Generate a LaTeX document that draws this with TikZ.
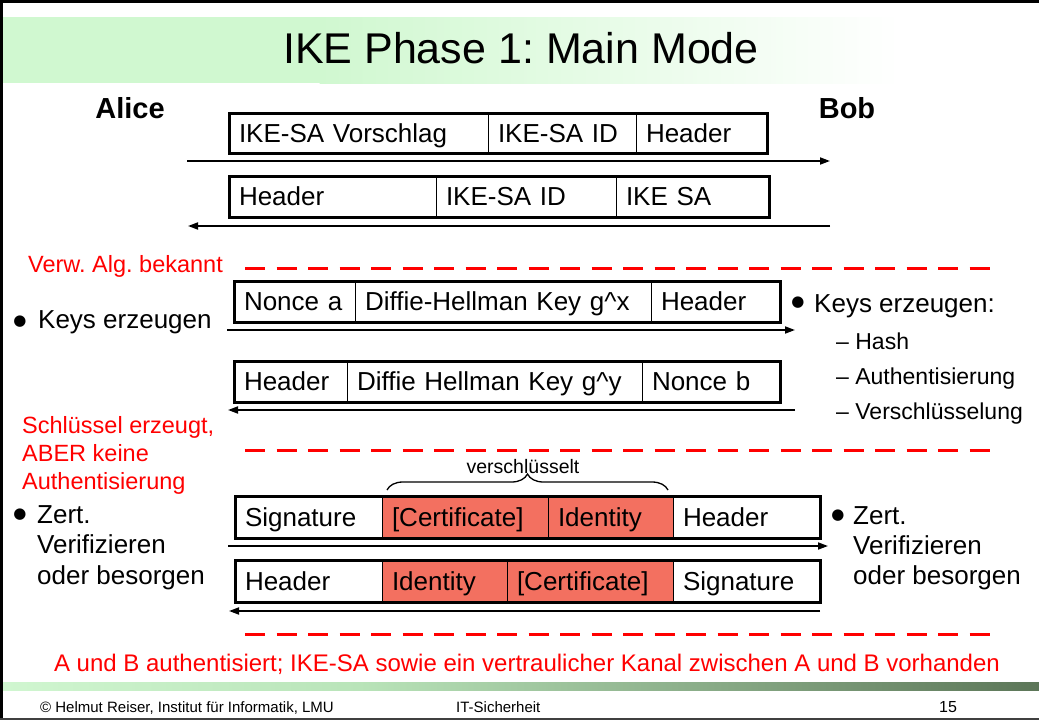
\documentclass[tikz,border=0pt]{standalone}
\usepackage{fontspec}
\setmainfont{Liberation Sans}
\newfontfamily\dejavu{DejaVu Sans}
\usetikzlibrary{decorations.pathreplacing,arrows.meta}
\definecolor{salmon}{RGB}{243,112,96}
\definecolor{bandgreen}{RGB}{208,248,208}
\definecolor{barA}{RGB}{208,246,208}
\definecolor{barB}{RGB}{185,228,185}
\definecolor{barC}{RGB}{92,118,88}
\definecolor{alertred}{RGB}{255,0,0}
\frenchspacing
\newcommand\fsz[1]{\fontsize{#1}{#1}\selectfont}
\tikzset{
  cellbox/.style={draw=black, line width=1pt, inner xsep=10pt, inner ysep=0pt, outer sep=0pt,
    align=left, anchor=north west, text height=18.6pt, text depth=0pt, font=\fsz{26}},
  boxframe/.style={draw=black, line width=3pt},
  msg/.style={line width=1.8pt, -{Triangle[length=10pt,width=7pt]}},
  divider/.style={draw=alertred, line width=3pt, dash pattern=on 20pt off 11.5pt},
  txt/.style={inner sep=0pt, anchor=base west, font=\fsz{26}},
  redtxt/.style={inner sep=0pt, anchor=base west, font=\fsz{23.5}, text=alertred},
  subtxt/.style={inner sep=0pt, anchor=base west, font=\fsz{23}},
  bul/.style={inner sep=0pt, font=\dejavu\fsz{15}, anchor=center},
  person/.style={inner sep=0pt, anchor=base, font=\bfseries\fsz{29}},
  foot/.style={inner sep=0pt, font=\fsz{15}},
}
\newcommand\cell[7]{% name, x1, x2, ytop, h, fill, text
  \pgfmathsetmacro\cw{#3-#2-20}%
  \node[cellbox, fill=#6, text width=\cw pt, minimum height=#5pt] (#1) at (#2,#4) {#7};}
\begin{document}
\begin{tikzpicture}[x=1pt,y=-1pt]
\useasboundingbox (0,0) rectangle (1039,720);
\fill[white] (0,0) rectangle (1039,720);
% title band
\fill[bandgreen] (3,17) rectangle (320,83);
\shade[left color=bandgreen, right color=white] (319.5,17) rectangle (900,83);
\node[inner sep=0pt, anchor=base, font=\fsz{43}] (title) at (521,63) {IKE Phase 1: Main Mode};
% bottom bar
\shade[left color=barA, right color=barB] (3,682) rectangle (360,690);
\shade[left color=barB, right color=barC] (359.5,682) rectangle (1039,690);
% frame
\draw[line width=3pt] (1.5,720) -- (1.5,1.5) -- (1039,1.5);
\draw[line width=2pt, black!75] (0,719) -- (1039,719);

% participants
\node[person] (alice) at (130,118) {Alice};
\node[person] (bob) at (847,118) {Bob};

% message 1
\cell{m1a}{229}{488}{113}{40}{white}{IKE-SA Vorschlag}
\cell{m1b}{488}{636}{113}{40}{white}{IKE-SA ID}
\cell{m1c}{636}{767}{113}{40}{white}{Header}
\draw[boxframe] (m1a.north west) rectangle (m1c.south east);
\coordinate (a1s) at (187,161); \coordinate (a1e) at (830,161);
\draw[msg] (a1s) -- (a1e);

% message 2
\cell{m2a}{229}{436}{176}{41}{white}{Header}
\cell{m2b}{436}{616}{176}{41}{white}{IKE-SA ID}
\cell{m2c}{616}{769}{176}{41}{white}{IKE SA}
\draw[boxframe] (m2a.north west) rectangle (m2c.south east);
\coordinate (a2s) at (830,226); \coordinate (a2e) at (188,226);
\draw[msg] (a2s) -- (a2e);

% separator 1
\node[redtxt] (verw) at (28,272) {Verw. Alg. bekannt};
\coordinate (d1s) at (245,268); \coordinate (d1e) at (990,268);
\draw[divider] (d1s) -- (d1e);

% message 3
\cell{m3a}{234}{355}{281}{41}{white}{Nonce a}
\cell{m3b}{355}{651}{281}{41}{white}{Diffie-Hellman Key g\textasciicircum x}
\cell{m3c}{651}{780}{281}{41}{white}{Header}
\draw[boxframe] (m3a.north west) rectangle (m3c.south east);
\coordinate (a3s) at (227,330); \coordinate (a3e) at (795,330);
\draw[msg] (a3s) -- (a3e);

\node[bul] (bl1) at (20,322) {●};
\node[txt] (keysl) at (38,328) {Keys erzeugen};
\node[bul] (br1) at (798,303) {●};
\node[txt] (keysr) at (814,312) {Keys erzeugen:};
\node[subtxt] (hash) at (836,349) {– Hash};
\node[subtxt] (auth) at (836,384) {– Authentisierung};
\node[subtxt] (versch) at (836,419) {– Verschlüsselung};

% message 4
\cell{m4a}{234}{347}{361}{41}{white}{Header}
\cell{m4b}{347}{642}{361}{41}{white}{Diffie Hellman Key g\textasciicircum y}
\cell{m4c}{642}{780}{361}{41}{white}{Nonce b}
\draw[boxframe] (m4a.north west) rectangle (m4c.south east);
\coordinate (a4s) at (795,410); \coordinate (a4e) at (228,410);
\draw[msg] (a4s) -- (a4e);

% separator 2
\node[redtxt] (s1) at (22,433) {Schlüssel erzeugt,};
\node[redtxt] (s2) at (22,461) {ABER keine};
\node[redtxt] (s3) at (22,489) {Authentisierung};
\coordinate (d2s) at (245,450); \coordinate (d2e) at (990,450);
\draw[divider] (d2s) -- (d2e);

% encrypted brace
\node[inner sep=0pt, anchor=base, font=\fsz{19.5}] (enc) at (523,473) {verschlüsselt};
\coordinate (bra) at (387,490); \coordinate (brb) at (668,490);
\draw[line width=1.3pt, decorate, decoration={brace, amplitude=16pt}] (bra) -- (brb);

% message 5
\cell{m5a}{235}{382}{496}{42}{white}{Signature}
\cell{m5b}{382}{548}{496}{42}{salmon}{[Certificate]}
\cell{m5c}{548}{673}{496}{42}{salmon}{Identity}
\cell{m5d}{673}{820}{496}{42}{white}{Header}
\draw[boxframe] (m5a.north west) rectangle (m5d.south east);
\coordinate (a5s) at (228,546); \coordinate (a5e) at (828,546);
\draw[msg] (a5s) -- (a5e);

% message 6
\cell{m6a}{235}{382}{560}{42}{white}{Header}
\cell{m6b}{382}{507}{560}{42}{salmon}{Identity}
\cell{m6c}{507}{673}{560}{42}{salmon}{[Certificate]}
\cell{m6d}{673}{820}{560}{42}{white}{Signature}
\draw[boxframe] (m6a.north west) rectangle (m6d.south east);
\coordinate (a6s) at (820,611); \coordinate (a6e) at (229,611);
\draw[msg] (a6s) -- (a6e);

% certificate notes
\node[bul] (bl2) at (20,515) {●};
\node[txt] (zl1) at (37,523) {Zert.};
\node[txt] (zl2) at (37,553) {Verifizieren};
\node[txt] (zl3) at (37,584) {oder besorgen};
\node[bul] (br2) at (838,516) {●};
\node[txt] (zr1) at (853,524) {Zert.};
\node[txt] (zr2) at (853,554) {Verifizieren};
\node[txt] (zr3) at (853,584) {oder besorgen};

% separator 3 and conclusion
\coordinate (d3s) at (245,634); \coordinate (d3e) at (990,634);
\draw[divider] (d3s) -- (d3e);
\node[inner sep=0pt, anchor=base, font=\fsz{24}, text=alertred] (concl) at (527,671)
  {A und B authentisiert; IKE-SA sowie ein vertraulicher Kanal zwischen A und B vorhanden};

% footer
\node[foot, anchor=base west] (f1) at (40,712) {© Helmut Reiser, Institut für Informatik, LMU};
\node[foot, anchor=base west] (f2) at (456,712) {IT-Sicherheit};
\node[foot, anchor=base, font=\fsz{16}] (f3) at (948,712) {15};
\end{tikzpicture}
\end{document}
